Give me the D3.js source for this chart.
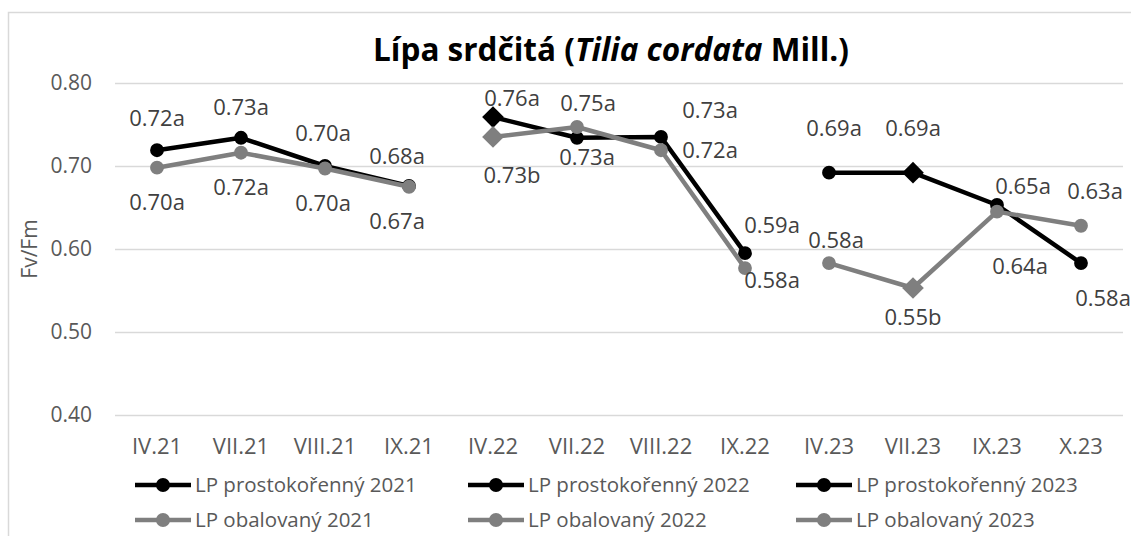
<!DOCTYPE html>
<html>
<head>
<meta charset="utf-8">
<script src="https://cdn.jsdelivr.net/npm/d3@7"></script>
<style>
  body { margin: 0; background: #fff; }
  text { font-family: "Open Sans", sans-serif; }
</style>
</head>
<body>
<svg id="chart" width="1131" height="536"></svg>
<script>
// Categories (x axis)
const categories = ["IV.21", "VII.21", "VIII.21", "IX.21", "IV.22", "VII.22", "VIII.22", "IX.22", "IV.23", "VII.23", "IX.23", "X.23"];
const yTicks = [0.40, 0.50, 0.60, 0.70, 0.80];

// Series values
const bare2021 = [0.719, 0.734, 0.700, 0.676];
const bare2022 = [0.759, 0.734, 0.735, 0.595];
const bare2023 = [0.692, 0.692, 0.653, 0.583];
const cont2021 = [0.698, 0.716, 0.697, 0.675];
const cont2022 = [0.735, 0.747, 0.719, 0.577];
const cont2023 = [0.583, 0.553, 0.645, 0.628];

// Data labels
const bare2021Labels = ["0.72a", "0.73a", "0.70a", "0.68a"];
const bare2022Labels = ["0.76a", "0.73a", "0.73a", "0.59a"];
const bare2023Labels = ["0.69a", "0.69a", "0.65a", "0.58a"];
const cont2021Labels = ["0.70a", "0.72a", "0.70a", "0.67a"];
const cont2022Labels = ["0.73b", "0.75a", "0.72a", "0.58a"];
const cont2023Labels = ["0.58a", "0.55b", "0.64a", "0.63a"];

// Marker shape per point (diamond marks a significant difference)
const bareMarkers2022 = ["diamond", "circle", "circle", "circle"];
const bareMarkers2023 = ["circle", "diamond", "circle", "circle"];
const contMarkers2022 = ["diamond", "circle", "circle", "circle"];
const contMarkers2023 = ["circle", "diamond", "circle", "circle"];
const plainMarkers = ["circle", "circle", "circle", "circle"];

// Label placement relative to the point (px)
const bare2021Offsets = [[0, -32], [0, -30], [-2, -33], [-12, -30]];
const bare2022Offsets = [[19, -19], [10, 20], [49, -27], [27, -28]];
const bare2023Offsets = [[5, -44], [0, -44], [26, -19], [22, 35]];
const cont2021Offsets = [[0, 35], [0, 35], [-2, 35], [-12, 35]];
const cont2022Offsets = [[19, 38], [11, -24], [49, 0], [27, 12]];
const cont2023Offsets = [[7, -23], [0, 29], [23, 55], [14, -34]];

const black = "#000000";
const grey = "#7f7f7f";

const series = [
  { name: "LP prostokořenný 2021", start: 0, values: bare2021, labels: bare2021Labels, markers: plainMarkers, offsets: bare2021Offsets, color: black },
  { name: "LP prostokořenný 2022", start: 4, values: bare2022, labels: bare2022Labels, markers: bareMarkers2022, offsets: bare2022Offsets, color: black },
  { name: "LP prostokořenný 2023", start: 8, values: bare2023, labels: bare2023Labels, markers: bareMarkers2023, offsets: bare2023Offsets, color: black },
  { name: "LP obalovaný 2021", start: 0, values: cont2021, labels: cont2021Labels, markers: plainMarkers, offsets: cont2021Offsets, color: grey },
  { name: "LP obalovaný 2022", start: 4, values: cont2022, labels: cont2022Labels, markers: contMarkers2022, offsets: cont2022Offsets, color: grey },
  { name: "LP obalovaný 2023", start: 8, values: cont2023, labels: cont2023Labels, markers: contMarkers2023, offsets: cont2023Offsets, color: grey }
];

const margin = { top: 83, right: 8, bottom: 121, left: 115 };
const width = 1131 - margin.left - margin.right;
const height = 536 - margin.top - margin.bottom;

const svg = d3.select("#chart");

// chart area border
svg.append("rect")
  .attr("x", 8.5).attr("y", 12.5)
  .attr("width", 1140).attr("height", 600)
  .attr("fill", "none")
  .attr("stroke", "#d9d9d9")
  .attr("stroke-width", 1.5);

svg.append("text")
  .attr("x", 611).attr("y", 61)
  .attr("text-anchor", "middle")
  .attr("font-size", 31.5)
  .attr("font-weight", "bold")
  .attr("fill", "#000")
  .call(t => {
    t.append("tspan").text("Lípa srdčitá (");
    t.append("tspan").attr("font-style", "italic").text("Tilia cordata");
    t.append("tspan").text(" Mill.)");
  });

const g = svg.append("g").attr("transform", `translate(${margin.left},${margin.top})`);

const x = d3.scaleBand().domain(categories).range([0, width]);
const y = d3.scaleLinear().domain([0.4, 0.8]).range([height, 0]);

// gridlines
g.append("g")
  .call(d3.axisLeft(y).tickValues(yTicks).tickSize(-width).tickFormat(""))
  .call(a => a.select(".domain").remove())
  .call(a => a.selectAll("line").attr("stroke", "#d9d9d9").attr("stroke-width", 1.5));

// y tick labels
g.append("g")
  .call(d3.axisLeft(y).tickValues(yTicks).tickSize(0).tickPadding(23).tickFormat(d3.format(".2f")))
  .call(a => a.select(".domain").remove())
  .call(a => a.selectAll("text").attr("font-size", 21).attr("fill", "#595959").attr("font-family", "Open Sans"));

// x tick labels
g.append("g")
  .attr("transform", `translate(0,${height})`)
  .call(d3.axisBottom(x).tickSize(0).tickPadding(23))
  .call(a => a.select(".domain").remove())
  .call(a => a.selectAll("text").attr("font-size", 22).attr("fill", "#595959").attr("font-family", "Open Sans"));

// y axis title
svg.append("text")
  .attr("transform", `translate(37,${margin.top + height / 2}) rotate(-90)`)
  .attr("text-anchor", "middle")
  .attr("font-size", 21)
  .attr("fill", "#595959")
  .text("Fv/Fm");

const cx = (s, i) => x(categories[s.start + i]) + x.bandwidth() / 2;

const line = d3.line();
const diamond = d3.symbol().type(d3.symbolDiamond2).size(300);
const circle = d3.symbol().type(d3.symbolCircle).size(150);

series.forEach(s => {
  const pts = s.values.map((v, i) => [cx(s, i), y(v)]);
  const sg = g.append("g");
  sg.append("path")
    .attr("d", line(pts))
    .attr("fill", "none")
    .attr("stroke", s.color)
    .attr("stroke-width", 4.5)
    .attr("stroke-linejoin", "round");
  sg.selectAll(".pt")
    .data(pts)
    .join("path")
    .attr("class", "pt")
    .attr("transform", d => `translate(${d[0]},${d[1]})`)
    .attr("d", (d, i) => s.markers[i] === "diamond" ? diamond() : circle())
    .attr("fill", s.color);
});

// data labels on top
series.forEach(s => {
  g.append("g").selectAll("text")
    .data(s.labels)
    .join("text")
    .attr("x", (d, i) => cx(s, i) + s.offsets[i][0])
    .attr("y", (d, i) => y(s.values[i]) + s.offsets[i][1])
    .attr("dy", "0.35em")
    .attr("text-anchor", "middle")
    .attr("font-size", 22)
    .attr("fill", "#404040")
    .text(d => d);
});

// legend
const legendX = [135, 468, 796];
const legendY = [485, 520];
const leg = svg.append("g").selectAll("g")
  .data(series)
  .join("g")
  .attr("transform", (d, i) => `translate(${legendX[i % 3]},${legendY[Math.floor(i / 3)]})`);
leg.append("line")
  .attr("x1", 0).attr("x2", 56)
  .attr("stroke", d => d.color)
  .attr("stroke-width", 4.5);
leg.append("circle")
  .attr("cx", 28).attr("r", 7)
  .attr("fill", d => d.color);
leg.append("text")
  .attr("x", 60).attr("dy", "0.35em")
  .attr("font-size", 20.5)
  .attr("fill", "#595959")
  .text(d => d.name);
</script>
</body>
</html>
